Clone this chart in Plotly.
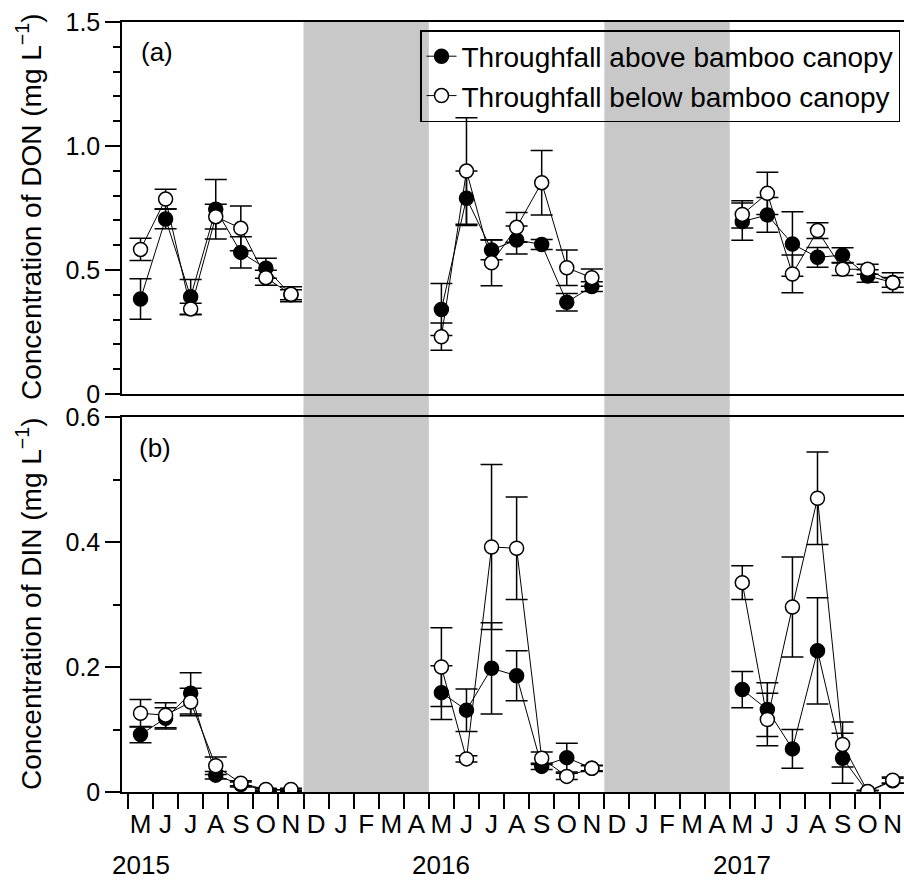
import plotly.graph_objects as go

# ---------------- data ----------------
month_letters = ["M", "J", "J", "A", "S", "O", "N", "D", "J", "F", "M", "A",
                 "M", "J", "J", "A", "S", "O", "N", "D", "J", "F", "M", "A",
                 "M", "J", "J", "A", "S", "O", "N"]
years = ["2015", "2016", "2017"]
year_month_index = [0, 12, 24]
dormant_start = [7, 19]
dormant_end = [12, 24]

# month index of each sample (None = break between years)
sample_month = [0, 1, 2, 3, 4, 5, 6, None,
                12, 13, 14, 15, 16, 17, 18, None,
                24, 25, 26, 27, 28, 29, 30]

don_above = [0.383, 0.706, 0.392, 0.745, 0.571, 0.507, 0.400, None,
             0.341, 0.789, 0.581, 0.621, 0.603, 0.370, 0.433, None,
             0.695, 0.722, 0.605, 0.551, 0.560, 0.476, 0.450]
don_above_err = [0.082, 0.040, 0.070, 0.120, 0.063, 0.040, 0.020, None,
                 0.105, 0.110, 0.040, 0.056, 0.020, 0.035, 0.020, None,
                 0.075, 0.070, 0.130, 0.040, 0.030, 0.025, 0.020]
don_below = [0.583, 0.786, 0.343, 0.715, 0.668, 0.469, 0.402, None,
             0.231, 0.899, 0.529, 0.672, 0.852, 0.509, 0.469, None,
             0.724, 0.809, 0.484, 0.659, 0.503, 0.503, 0.449]
don_below_err = [0.045, 0.040, 0.023, 0.050, 0.090, 0.030, 0.030, None,
                 0.055, 0.215, 0.093, 0.060, 0.130, 0.072, 0.035, None,
                 0.055, 0.085, 0.076, 0.032, 0.025, 0.020, 0.040]

din_above = [0.092, 0.118, 0.158, 0.027, 0.012, 0.003, 0.003, None,
             0.159, 0.131, 0.198, 0.186, 0.041, 0.055, 0.038, None,
             0.164, 0.132, 0.069, 0.226, 0.054, 0.000, 0.018]
din_above_err = [0.013, 0.017, 0.033, 0.006, 0.004, 0.002, 0.002, None,
                 0.043, 0.034, 0.073, 0.040, 0.005, 0.023, 0.004, None,
                 0.029, 0.043, 0.031, 0.085, 0.040, 0.002, 0.004]
din_below = [0.126, 0.123, 0.144, 0.042, 0.014, 0.004, 0.004, None,
             0.200, 0.053, 0.392, 0.390, 0.054, 0.025, 0.038, None,
             0.335, 0.116, 0.296, 0.470, 0.076, 0.001, 0.019]
din_below_err = [0.022, 0.020, 0.022, 0.014, 0.004, 0.002, 0.002, None,
                 0.063, 0.005, 0.132, 0.082, 0.010, 0.005, 0.005, None,
                 0.027, 0.042, 0.080, 0.074, 0.036, 0.002, 0.005]

series_names = ["Throughfall above bamboo canopy", "Throughfall below bamboo canopy"]

# ---------------- figure ----------------
FONT = "Liberation Sans, Arial, sans-serif"
x_pts = [None if m is None else m + 0.5 for m in sample_month]

fig = go.Figure()

def add_series(y, err, name, filled, xa, ya, show):
    fig.add_trace(go.Scatter(
        x=x_pts, y=y, name=name, mode="lines+markers",
        xaxis=xa, yaxis=ya, showlegend=show, legendgroup=name,
        connectgaps=False,
        line=dict(color="black", width=1),
        marker=dict(symbol="circle", size=14,
                    color="black" if filled else "white",
                    line=dict(color="black", width=1.5)),
        error_y=dict(type="data", array=err, visible=True,
                     color="black", thickness=1.5, width=11),
    ))

add_series(don_above, don_above_err, series_names[0], True, "x2", "y", True)
add_series(don_below, don_below_err, series_names[1], False, "x2", "y", True)
add_series(din_above, din_above_err, series_names[0], True, "x", "y2", False)
add_series(din_below, din_below_err, series_names[1], False, "x", "y2", False)

for s, e in zip(dormant_start, dormant_end):
    fig.add_shape(type="rect", xref="x", yref="paper", x0=s, x1=e, y0=0, y1=1,
                  fillcolor="#C8C8C8", line=dict(width=0), layer="below")

W, H = 904, 885
ML, MR, MT, MB = 122, 0, 22, 93
pw, ph = W - ML - MR, H - MT - MB
x_range = [-0.239, 30.95]

def py(pix):
    return (H - MB - pix) / ph

def px(pix):
    return (pix - ML) / pw

tick_font = dict(family=FONT, size=25, color="black")

fig.update_layout(
    width=W, height=H,
    margin=dict(l=ML, r=MR, t=MT, b=MB),
    paper_bgcolor="white", plot_bgcolor="rgba(0,0,0,0)",
    font=dict(family=FONT, color="black", size=25),
    showlegend=True,
    legend=dict(x=px(900), y=py(30), xanchor="right", yanchor="top",
                bgcolor="rgba(0,0,0,0)", bordercolor="black", borderwidth=1.5,
                font=dict(family=FONT, size=28, color="black"),
                tracegroupgap=0),
    xaxis=dict(domain=[0, 1], anchor="y2", range=x_range,
               tickmode="array",
               tickvals=[i + 0.5 for i in range(len(month_letters))],
               ticktext=month_letters,
               ticks="outside", ticklen=8, tickcolor="rgba(0,0,0,0)",
               tickfont=dict(family=FONT, size=26, color="black"),
               showline=True, linecolor="black", linewidth=1.5, mirror=True,
               showgrid=False, zeroline=False,
               minor=dict(tick0=0, dtick=1, ticks="outside", ticklen=15,
                          tickwidth=1.5, tickcolor="black", showgrid=False)),
    xaxis2=dict(domain=[0, 1], anchor="y", range=x_range, matches="x",
                showticklabels=False, ticks="",
                showline=True, linecolor="black", linewidth=1.5, mirror=True,
                showgrid=False, zeroline=False),
    yaxis=dict(domain=[py(394), 1], anchor="x2", range=[0, 1.5],
               tickmode="array", tickvals=[0, 0.5, 1.0, 1.5],
               ticktext=["0", "0.5", "1.0", "1.5"],
               ticks="outside", ticklen=15, tickwidth=1.5, tickcolor="black",
               tickfont=tick_font,
               showline=True, linecolor="black", linewidth=1.5,
               showgrid=False, zeroline=False,
               minor=dict(tick0=0, dtick=0.1, ticks="outside", ticklen=7,
                          tickwidth=1.5, tickcolor="black", showgrid=False)),
    yaxis2=dict(domain=[0, py(417)], anchor="x", range=[0, 0.6],
                tickmode="array", tickvals=[0, 0.2, 0.4, 0.6],
                ticktext=["0", "0.2", "0.4", "0.6"],
                ticks="outside", ticklen=15, tickwidth=1.5, tickcolor="black",
                tickfont=tick_font,
                showline=True, linecolor="black", linewidth=1.5,
                showgrid=False, zeroline=False,
                minor=dict(tick0=0, dtick=0.1, ticks="outside", ticklen=7,
                           tickwidth=1.5, tickcolor="black", showgrid=False)),
)

annotations = [
    dict(text="(a)", x=px(139), y=py(52), xref="paper", yref="paper",
         xanchor="left", yanchor="middle", showarrow=False,
         font=dict(family=FONT, size=26, color="black")),
    dict(text="(b)", x=px(137), y=py(448), xref="paper", yref="paper",
         xanchor="left", yanchor="middle", showarrow=False,
         font=dict(family=FONT, size=26, color="black")),
    dict(text="Concentration of DON (mg L<sup>\u22121</sup>)", textangle=-90,
         x=px(29), y=py(207), xref="paper", yref="paper",
         xanchor="center", yanchor="middle", showarrow=False,
         font=dict(family=FONT, size=28, color="black")),
    dict(text="Concentration of DIN (mg L<sup>\u22121</sup>)", textangle=-90,
         x=px(29), y=py(604), xref="paper", yref="paper",
         xanchor="center", yanchor="middle", showarrow=False,
         font=dict(family=FONT, size=28, color="black")),
]
for yr, mi in zip(years, year_month_index):
    annotations.append(dict(text=yr, x=mi + 0.5, y=py(865), xref="x", yref="paper",
                            xanchor="center", yanchor="middle", showarrow=False,
                            font=dict(family=FONT, size=26, color="black")))
fig.update_layout(annotations=annotations)

fig.write_html("out.html")
